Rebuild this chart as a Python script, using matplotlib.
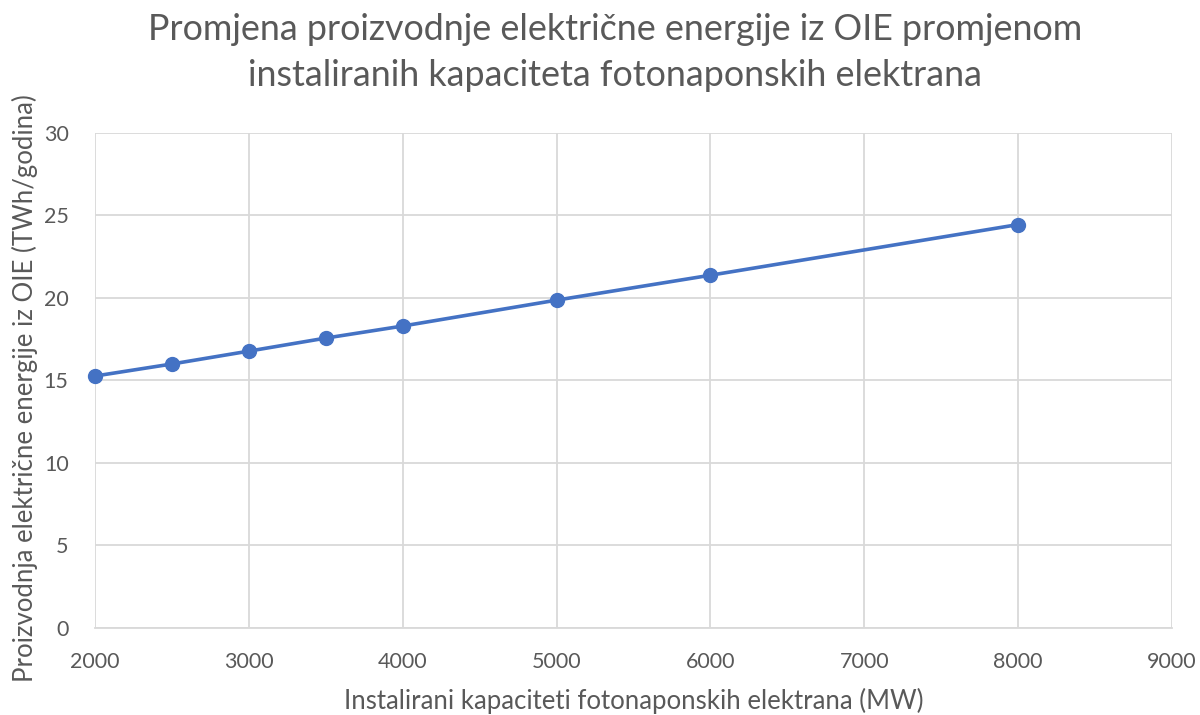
import matplotlib
matplotlib.use("Agg")
import matplotlib.pyplot as plt

capacity_mw = [2000, 2500, 3000, 3500, 4000, 5000, 6000, 8000]
production_twh = [15.27, 16.0, 16.78, 17.57, 18.3, 19.87, 21.38, 24.45]

title = "Promjena proizvodnje električne energije iz OIE promjenom\ninstaliranih kapaciteta fotonaponskih elektrana"
xlabel = "Instalirani kapaciteti fotonaponskih elektrana (MW)"
ylabel = "Proizvodnja električne energije iz OIE (TWh/godina)"

plt.rcParams['font.family'] = ['Lato', 'DejaVu Sans']
text_color = "#595959"
grid_color = "#D9D9D9"
line_color = "#4472C4"

fig = plt.figure(figsize=(12, 7.15), dpi=100)
ax = fig.add_axes([0.0792, 0.1217, 0.8975, 0.6923])
ax.plot(capacity_mw, production_twh, color=line_color, linewidth=2.6,
        marker='o', markersize=10, zorder=3, clip_on=False)
ax.set_xlim(2000, 9000)
ax.set_ylim(0, 30)
ax.set_xticks(range(2000, 9001, 1000))
ax.set_yticks(range(0, 31, 5))
ax.grid(True, color=grid_color, linewidth=1.3)
ax.set_axisbelow(True)
for s in ['top', 'right', 'left']:
    ax.spines[s].set_visible(False)
ax.spines['bottom'].set_color(grid_color)
ax.spines['bottom'].set_linewidth(1.3)
ax.tick_params(axis='x', length=0, labelsize=15.5, colors=text_color, pad=17)
ax.tick_params(axis='y', length=0, labelsize=15.5, colors=text_color, pad=19)
ax.set_xlabel(xlabel, fontsize=18.5, color=text_color, labelpad=12)
ax.set_ylabel(ylabel, fontsize=18.5, color=text_color, va='center')
ax.yaxis.set_label_coords(-0.065, 0.485)
fig.text(0.5125, 0.927, title, ha='center', va='center', fontsize=25.8,
         color=text_color, linespacing=1.47)
fig.savefig("out.png", dpi=100, facecolor='white')
